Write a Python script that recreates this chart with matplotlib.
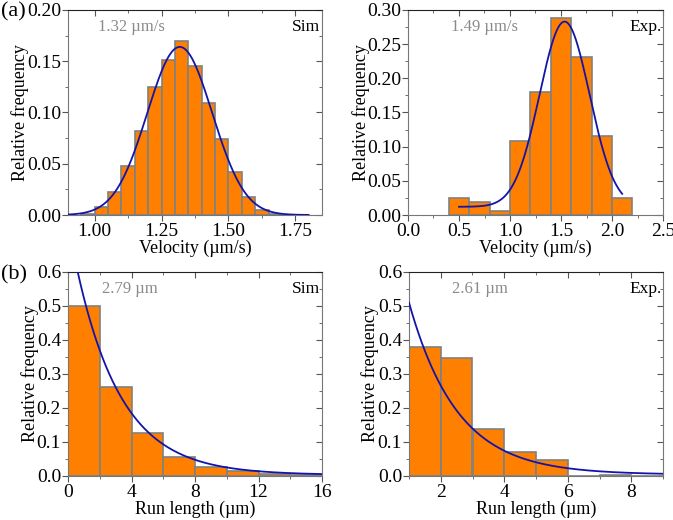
import numpy as np
import matplotlib
matplotlib.use("Agg")
import matplotlib.pyplot as plt
from matplotlib.ticker import MultipleLocator, FormatStrFormatter

plt.rcParams['font.family'] = ['Liberation Serif', 'DejaVu Serif']
plt.rcParams['font.size'] = 11
plt.rcParams['mathtext.fontset'] = 'stix'

# ---- data ----
sim_vel_edges = [0.95, 1.00, 1.05, 1.10, 1.15, 1.20, 1.25, 1.30, 1.35, 1.40, 1.45, 1.50, 1.55, 1.60, 1.65, 1.70]
sim_vel_freq = [0.001, 0.0075, 0.022, 0.048, 0.082, 0.125, 0.151, 0.170, 0.145, 0.109, 0.074, 0.0415, 0.018, 0.005, 0.001]
sim_vel_fit = dict(x0=1.318, amp=0.164, sigma=0.1215, y0=0.0, xmin=0.9, xmax=1.80)
sim_vel_mean = "1.32 µm/s"

exp_vel_edges = [0.4, 0.6, 0.8, 1.0, 1.2, 1.4, 1.6, 1.8, 2.0, 2.2]
exp_vel_freq = [0.0255, 0.019, 0.0064, 0.109, 0.180, 0.289, 0.231, 0.116, 0.0255]
exp_vel_fit = dict(x0=1.535, amp=0.271, sigma=0.245, y0=0.012, xmin=0.5, xmax=2.1)
exp_vel_mean = "1.49 µm/s"

sim_run_edges = [0, 2, 4, 6, 8, 10, 12, 14, 16]
sim_run_freq = [0.499, 0.262, 0.126, 0.056, 0.027, 0.0145, 0.006, 0.002]
sim_run_fit = dict(x0=0.0, amp=0.74, tau=2.85, y0=0.003, xmin=0.0, xmax=16)
sim_run_mean = "2.79 µm"

exp_run_edges = [1, 2, 3, 4, 5, 6, 7, 8, 9]
exp_run_freq = [0.380, 0.347, 0.137, 0.072, 0.0456, 0.0, 0.003, 0.0]
exp_run_fit = dict(x0=1.0, amp=0.506, tau=1.52, y0=0.004, xmin=1.0, xmax=9)
exp_run_mean = "2.61 µm"

BAR = '#FF8000'
EDGE = '#808080'
LINE = '#1414A8'

W, H = 673, 520
fig = plt.figure(figsize=(W / 100, H / 100), dpi=100)

def ax_at(l, t, r, b):
    return fig.add_axes([l / W, 1 - b / H, (r - l) / W, (b - t) / H])

def style(ax, xmaj, xmin, ymaj, ymin, xfmt, yfmt):
    ax.xaxis.set_major_locator(MultipleLocator(xmaj))
    ax.xaxis.set_minor_locator(MultipleLocator(xmin))
    ax.yaxis.set_major_locator(MultipleLocator(ymaj))
    ax.yaxis.set_minor_locator(MultipleLocator(ymin))
    ax.xaxis.set_major_formatter(FormatStrFormatter(xfmt))
    ax.yaxis.set_major_formatter(FormatStrFormatter(yfmt))
    ax.tick_params(which='both', direction='out', top=False, right=False, color='#555555')
    ax.tick_params(which='major', length=4, width=0.8, labelsize=14)
    ax.tick_params(which='minor', length=2.5, width=0.6)
    ax.tick_params(axis='y', which='major', pad=1)
    ax.tick_params(axis='x', which='major', pad=2)
    for s in ['left', 'bottom', 'right']:
        ax.spines[s].set_color('#777777')
    ax.spines['top'].set_color('#222222')
    # inward mirror ticks on top/right
    sec_x = ax.secondary_xaxis('top')
    sec_x.xaxis.set_major_locator(MultipleLocator(xmaj))
    sec_x.xaxis.set_minor_locator(MultipleLocator(xmin))
    sec_x.tick_params(which='both', direction='in', labeltop=False, color='#555555')
    sec_x.tick_params(which='major', length=4, width=0.8)
    sec_x.tick_params(which='minor', length=2.5, width=0.6)
    sec_x.spines['top'].set_visible(False)
    sec_y = ax.secondary_yaxis('right')
    sec_y.yaxis.set_major_locator(MultipleLocator(ymaj))
    sec_y.yaxis.set_minor_locator(MultipleLocator(ymin))
    sec_y.tick_params(which='both', direction='in', labelright=False, color='#555555')
    sec_y.tick_params(which='major', length=4, width=0.8)
    sec_y.tick_params(which='minor', length=2.5, width=0.6)
    sec_y.spines['right'].set_visible(False)

def bars(ax, edges, freq):
    edges = np.asarray(edges, float)
    ax.bar(edges[:-1], freq, width=np.diff(edges), align='edge', color=BAR,
           edgecolor=EDGE, linewidth=1.2, zorder=2)

def gauss_curve(ax, p):
    x = np.linspace(p['xmin'], p['xmax'], 400)
    y = p['y0'] + p['amp'] * np.exp(-(x - p['x0']) ** 2 / (2 * p['sigma'] ** 2))
    ax.plot(x, y, color=LINE, lw=1.3, zorder=3)

def exp_curve(ax, p):
    x = np.linspace(p['xmin'], p['xmax'], 400)
    y = p['y0'] + p['amp'] * np.exp(-(x - p['x0']) / p['tau'])
    ax.plot(x, y, color=LINE, lw=1.3, zorder=3)

def labels(ax, xl, mean, mx, tag, ylx):
    ax.set_xlabel(xl, fontsize=13)
    ax.set_ylabel('Relative frequency', fontsize=13)
    ax.xaxis.label.set_va('center')
    ax.yaxis.label.set_va('center')
    ax.xaxis.set_label_coords(0.5, -0.162)
    ax.yaxis.set_label_coords(ylx, 0.5)
    ax.text(mx, 0.955, mean, transform=ax.transAxes, ha='center', va='top',
            color='#8a8a8a', fontsize=12)
    ax.text(0.993, 0.955, tag, transform=ax.transAxes, ha='right', va='top',
            color='black', fontsize=12.5)

# (a) Sim velocity
ax1 = ax_at(68, 10, 322, 215)
bars(ax1, sim_vel_edges, sim_vel_freq)
gauss_curve(ax1, sim_vel_fit)
ax1.set_xlim(0.9, 1.85)
ax1.set_ylim(0, 0.20)
style(ax1, 0.25, 0.125, 0.05, 0.025, '%.2f', '%.2f')
labels(ax1, 'Velocity (µm/s)', sim_vel_mean, 0.25, 'Sim', -0.189)

# (a) Exp velocity
ax2 = ax_at(408, 10, 663, 215)
bars(ax2, exp_vel_edges, exp_vel_freq)
gauss_curve(ax2, exp_vel_fit)
ax2.set_xlim(0, 2.5)
ax2.set_ylim(0, 0.30)
style(ax2, 0.5, 0.25, 0.05, 0.025, '%.1f', '%.2f')
labels(ax2, 'Velocity (µm/s)', exp_vel_mean, 0.30, 'Exp.', -0.186)

# (b) Sim run length
ax3 = ax_at(68, 272, 322, 476)
bars(ax3, sim_run_edges, sim_run_freq)
exp_curve(ax3, sim_run_fit)
ax3.set_xlim(0, 16)
ax3.set_ylim(0, 0.6)
style(ax3, 4, 2, 0.1, 0.05, '%d', '%.1f')
labels(ax3, 'Run length (µm)', sim_run_mean, 0.245, 'Sim', -0.15)

# (b) Exp run length
ax4 = ax_at(409, 272, 663, 476)
bars(ax4, exp_run_edges, exp_run_freq)
exp_curve(ax4, exp_run_fit)
ax4.set_xlim(1, 9)
ax4.set_ylim(0, 0.6)
style(ax4, 2, 1, 0.1, 0.05, '%d', '%.1f')
labels(ax4, 'Run length (µm)', exp_run_mean, 0.28, 'Exp.', -0.154)

fig.text(1 / W, 1 - 12 / H, '(a)', fontsize=16, va='center', ha='left')
fig.text(1 / W, 1 - 275 / H, '(b)', fontsize=16, va='center', ha='left')

fig.savefig('out.png', dpi=100)
